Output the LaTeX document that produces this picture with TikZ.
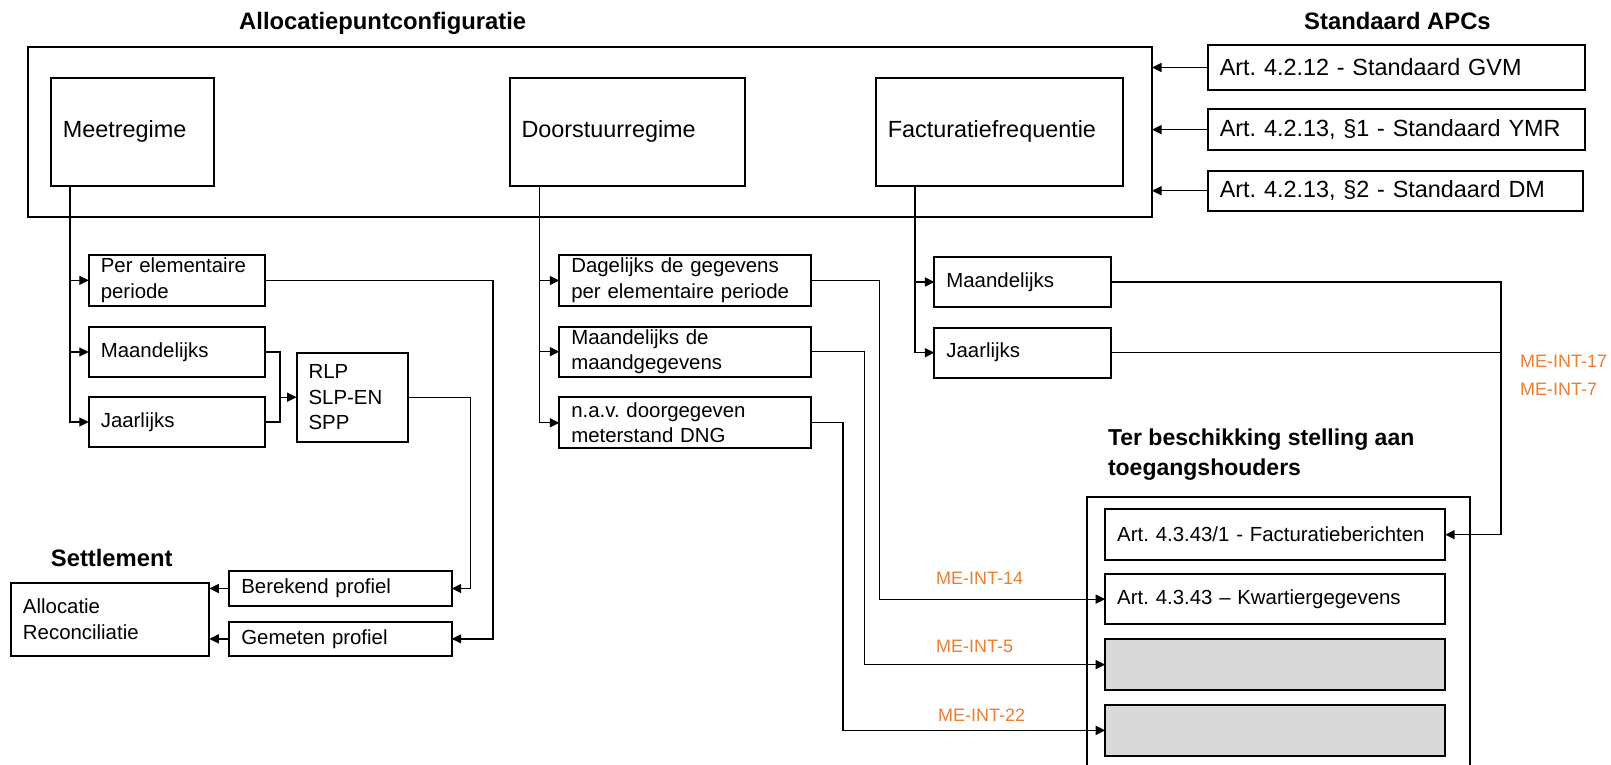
\documentclass[tikz,border=0pt]{standalone}
\usepackage{fontspec}
\setmainfont{Liberation Sans}
\usetikzlibrary{arrows.meta,calc}
\frenchspacing
\definecolor{meorange}{HTML}{ED7D31}
\definecolor{boxgrey}{HTML}{D9D9D9}
\newcommand\mkbox[7]{%
  \pgfmathsetmacro\mkw{#4-#2}%
  \pgfmathsetmacro\mkh{#5-#3}%
  \pgfmathsetmacro\mktw{#4-#2-24}%
  \node[bx,minimum width=\mkw pt,minimum height=\mkh pt,text width=\mktw pt,#6] (#1) at (#2,#3) {#7};}
\tikzset{
  bx/.style={draw,line width=2pt,anchor=north west,inner xsep=12pt,inner ysep=0pt,outer sep=0pt,align=left},
  big/.style={font=\fontsize{23.4}{29}\selectfont},
  small/.style={font=\fontsize{20.4}{25.7}\selectfont},
  ttl/.style={font=\fontsize{23.8}{29.3}\selectfont\bfseries,inner sep=0pt},
  melab/.style={font=\fontsize{18}{22}\selectfont,text=meorange,inner sep=0pt,anchor=west},
  conn/.style={line width=1.3pt},
  arr/.style={conn,-{Triangle[length=9.5pt,width=9pt]}},
}
\begin{document}
\begin{tikzpicture}[x=1pt,y=-1pt]
\clip (0,0) rectangle (1611,765);
\fill[white] (0,0) rectangle (1611,765);
% titles
\node[ttl,anchor=base west] (t1) at (239,30) {Allocatiepuntconfiguratie};
\node[ttl,anchor=base west] (t2) at (1304,29.5) {Standaard APCs};
\node[ttl,anchor=base west] (t3) at (50.7,566) {Settlement};
\node[ttl,font=\fontsize{23}{29.3}\selectfont\bfseries,anchor=west,align=left] (t4) at (1107.8,454.7) {Ter beschikking stelling aan\\toegangshouders};
% top configuration
\mkbox{outer}{27.6}{46.7}{1152}{216.5}{}{}
\mkbox{meet}{50.9}{78.3}{214.3}{185.5}{big}{Meetregime}
\mkbox{door}{509.5}{78.3}{744.5}{185.5}{big}{Doorstuurregime}
\mkbox{fact}{875.9}{78.3}{1123.1}{185.5}{big}{Facturatiefrequentie}
% standard APCs
\mkbox{art1}{1207.8}{45}{1584.9}{90}{big}{Art. 4.2.12 - Standaard GVM}
\mkbox{art2}{1207.8}{109.3}{1584.9}{150}{big}{Art. 4.2.13, §1 - Standaard YMR}
\mkbox{art3}{1207.8}{170.7}{1583}{210.7}{big}{Art. 4.2.13, §2 - Standaard DM}
% meetregime children
\mkbox{m1}{88.8}{255}{264.8}{305.7}{small}{Per elementaire\\periode}
\mkbox{m2}{88.8}{326.7}{264.8}{377.3}{small}{Maandelijks}
\mkbox{m3}{88.8}{396.7}{264.8}{447.3}{small}{Jaarlijks}
\mkbox{rlp}{296.6}{352.7}{408.3}{441.7}{small}{RLP\\SLP-EN\\SPP}
% doorstuurregime children
\mkbox{d1}{559.3}{255}{810.8}{306}{small}{Dagelijks de gegevens\\per elementaire periode}
\mkbox{d2}{559.3}{326.7}{810.8}{376.7}{small}{Maandelijks de\\maandgegevens}
\mkbox{d3}{559.3}{397.3}{810.8}{448.3}{small}{n.a.v. doorgegeven\\meterstand DNG}
% facturatie children
\mkbox{f1}{934.4}{256.7}{1110.8}{307.3}{small}{Maandelijks}
\mkbox{f2}{934.4}{327.7}{1110.8}{377.7}{small}{Jaarlijks}
% settlement
\mkbox{all}{11}{582.7}{209.3}{656}{small}{Allocatie\\Reconciliatie}
\mkbox{ber}{229.3}{571}{451.7}{606}{small}{Berekend profiel}
\mkbox{gem}{229.3}{621.7}{451.7}{656}{small}{Gemeten profiel}
% toegangshouders
\mkbox{cont}{1087.1}{496.7}{1469.9}{800}{}{}
\mkbox{fb}{1105.2}{509.3}{1445.1}{560}{small}{Art. 4.3.43/1 - Facturatieberichten}
\mkbox{kw}{1105.2}{574}{1445.1}{624.3}{small}{Art. 4.3.43 – Kwartiergegevens}
\mkbox{g1}{1105.2}{639.3}{1445.1}{690}{fill=boxgrey}{}
\mkbox{g2}{1105.2}{705}{1445.1}{755.7}{fill=boxgrey}{}
% APC arrows
\draw[arr] (art1.west) -- (art1.west -| outer.east);
\draw[arr] (art2.west) -- (art2.west -| outer.east);
\draw[arr] (art3.west) -- (art3.west -| outer.east);
% meetregime branches
\coordinate (mv) at ($(meet.south west)+(19.1,0)$);
\draw[arr] (mv) |- (m1.west);
\draw[arr] (mv) |- (m2.west);
\draw[arr] (mv) |- (m3.west);
\coordinate (brk) at ($(m2.east)+(15.3,0)$);
\draw[conn] (m2.east) -- (brk) |- (m3.east);
\draw[arr] (brk |- rlp.west) -- (rlp.west);
\draw[arr] (rlp.east) -- ++(62.4,0) |- (ber.east);
\draw[arr] (m1.east) -- ++(228.1,0) |- (gem.east);
\draw[arr] (ber.west) -- (ber.west -| all.east);
\draw[arr] (gem.west) -- (gem.west -| all.east);
% doorstuurregime branches
\coordinate (dv) at ($(door.south west)+(30.3,0)$);
\draw[arr] (dv) |- (d1.west);
\draw[arr] (dv) |- (d2.west);
\draw[arr] (dv) |- (d3.west);
\draw[arr] (d1.east) -- ++(68.4,0) |- (kw.west);
\draw[arr] (d2.east) -- ++(53.9,0) |- (g1.west);
\draw[arr] (d3.east) -- ++(32.2,0) |- (g2.west);
% facturatie branches
\coordinate (fv) at ($(fact.south west)+(39.1,0)$);
\draw[arr] (fv) |- (f1.west);
\draw[arr] (fv) |- (f2.west);
\draw[arr] (f1.east) -- ++(390.2,0) |- (fb.east);
\draw[conn] (f2.east) -- ++(390.2,0);
% labels
\node[melab] (l17) at (1519.8,361) {ME-INT-17};
\node[melab] (l7) at (1519.8,389.3) {ME-INT-7};
\node[melab] (l14) at (936,578.3) {ME-INT-14};
\node[melab] (l5) at (936,646.7) {ME-INT-5};
\node[melab] (l22) at (938,715) {ME-INT-22};
\end{tikzpicture}
\end{document}
